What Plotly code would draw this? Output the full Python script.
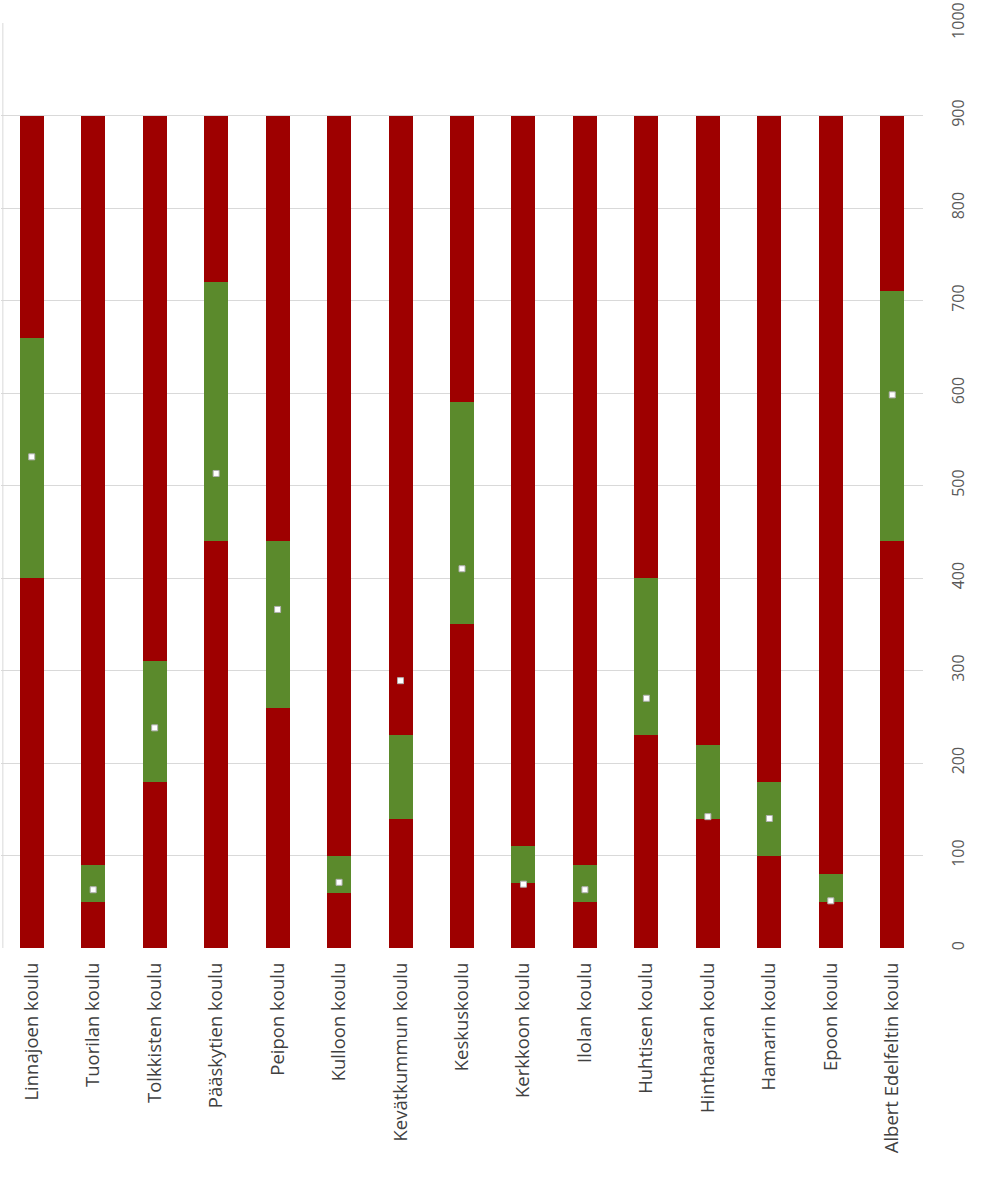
import plotly.graph_objects as go

schools = ["Linnajoen koulu", "Tuorilan koulu", "Tolkkisten koulu", "Pääskytien koulu",
           "Peipon koulu", "Kulloon koulu", "Kevätkummun koulu", "Keskuskoulu",
           "Kerkkoon koulu", "Ilolan koulu", "Huhtisen koulu", "Hinthaaran koulu",
           "Hamarin koulu", "Epoon koulu", "Albert Edelfeltin koulu"]
lower = [400, 50, 180, 440, 260, 60, 140, 350, 70, 50, 230, 140, 100, 50, 440]
upper = [660, 90, 310, 720, 440, 100, 230, 590, 110, 90, 400, 220, 180, 80, 710]
total = [900] * 15
point = [531, 63, 238, 513, 366, 71, 289, 410, 69, 63, 270, 142, 140, 51, 598]

RED = "#9e0000"
GREEN = "#5b8a2c"

green_part = [u - l for u, l in zip(upper, lower)]
top_part = [t - u for t, u in zip(total, upper)]

fig = go.Figure()
fig.add_bar(x=schools, y=lower, marker=dict(color=RED, line=dict(width=0)), width=0.39)
fig.add_bar(x=schools, y=green_part, marker=dict(color=GREEN, line=dict(width=0)), width=0.39)
fig.add_bar(x=schools, y=top_part, marker=dict(color=RED, line=dict(width=0)), width=0.39)
fig.add_scatter(x=schools, y=point, mode="markers",
                marker=dict(symbol="square", size=6, color="white",
                            line=dict(color="#b0b0b0", width=1)))

fig.update_layout(
    barmode="stack",
    width=991, height=1179,
    margin=dict(l=1, r=68, t=23, b=231),
    paper_bgcolor="white", plot_bgcolor="white",
    showlegend=False,
    font=dict(family="Open Sans", size=15, color="#595959"),
    xaxis=dict(tickangle=-90, showgrid=False, showline=False, ticks="",
               range=[-0.5, len(schools) - 0.5],
               automargin=False, ticklabelstandoff=10,
               tickfont=dict(size=18.5, color="#404040")),
    yaxis=dict(side="right", range=[0, 1000], dtick=100, tickangle=-90,
               showgrid=True, gridcolor="#d9d9d9", gridwidth=1,
               zeroline=False, showline=False, ticks="",
               automargin=False, ticklabelstandoff=24,
               tickfont=dict(size=16, color="#595959")),
)
fig.add_shape(type="line", xref="paper", yref="paper", x0=0.002, x1=0.002, y0=0, y1=1,
              line=dict(color="#d9d9d9", width=1))

fig.write_html("out.html")
